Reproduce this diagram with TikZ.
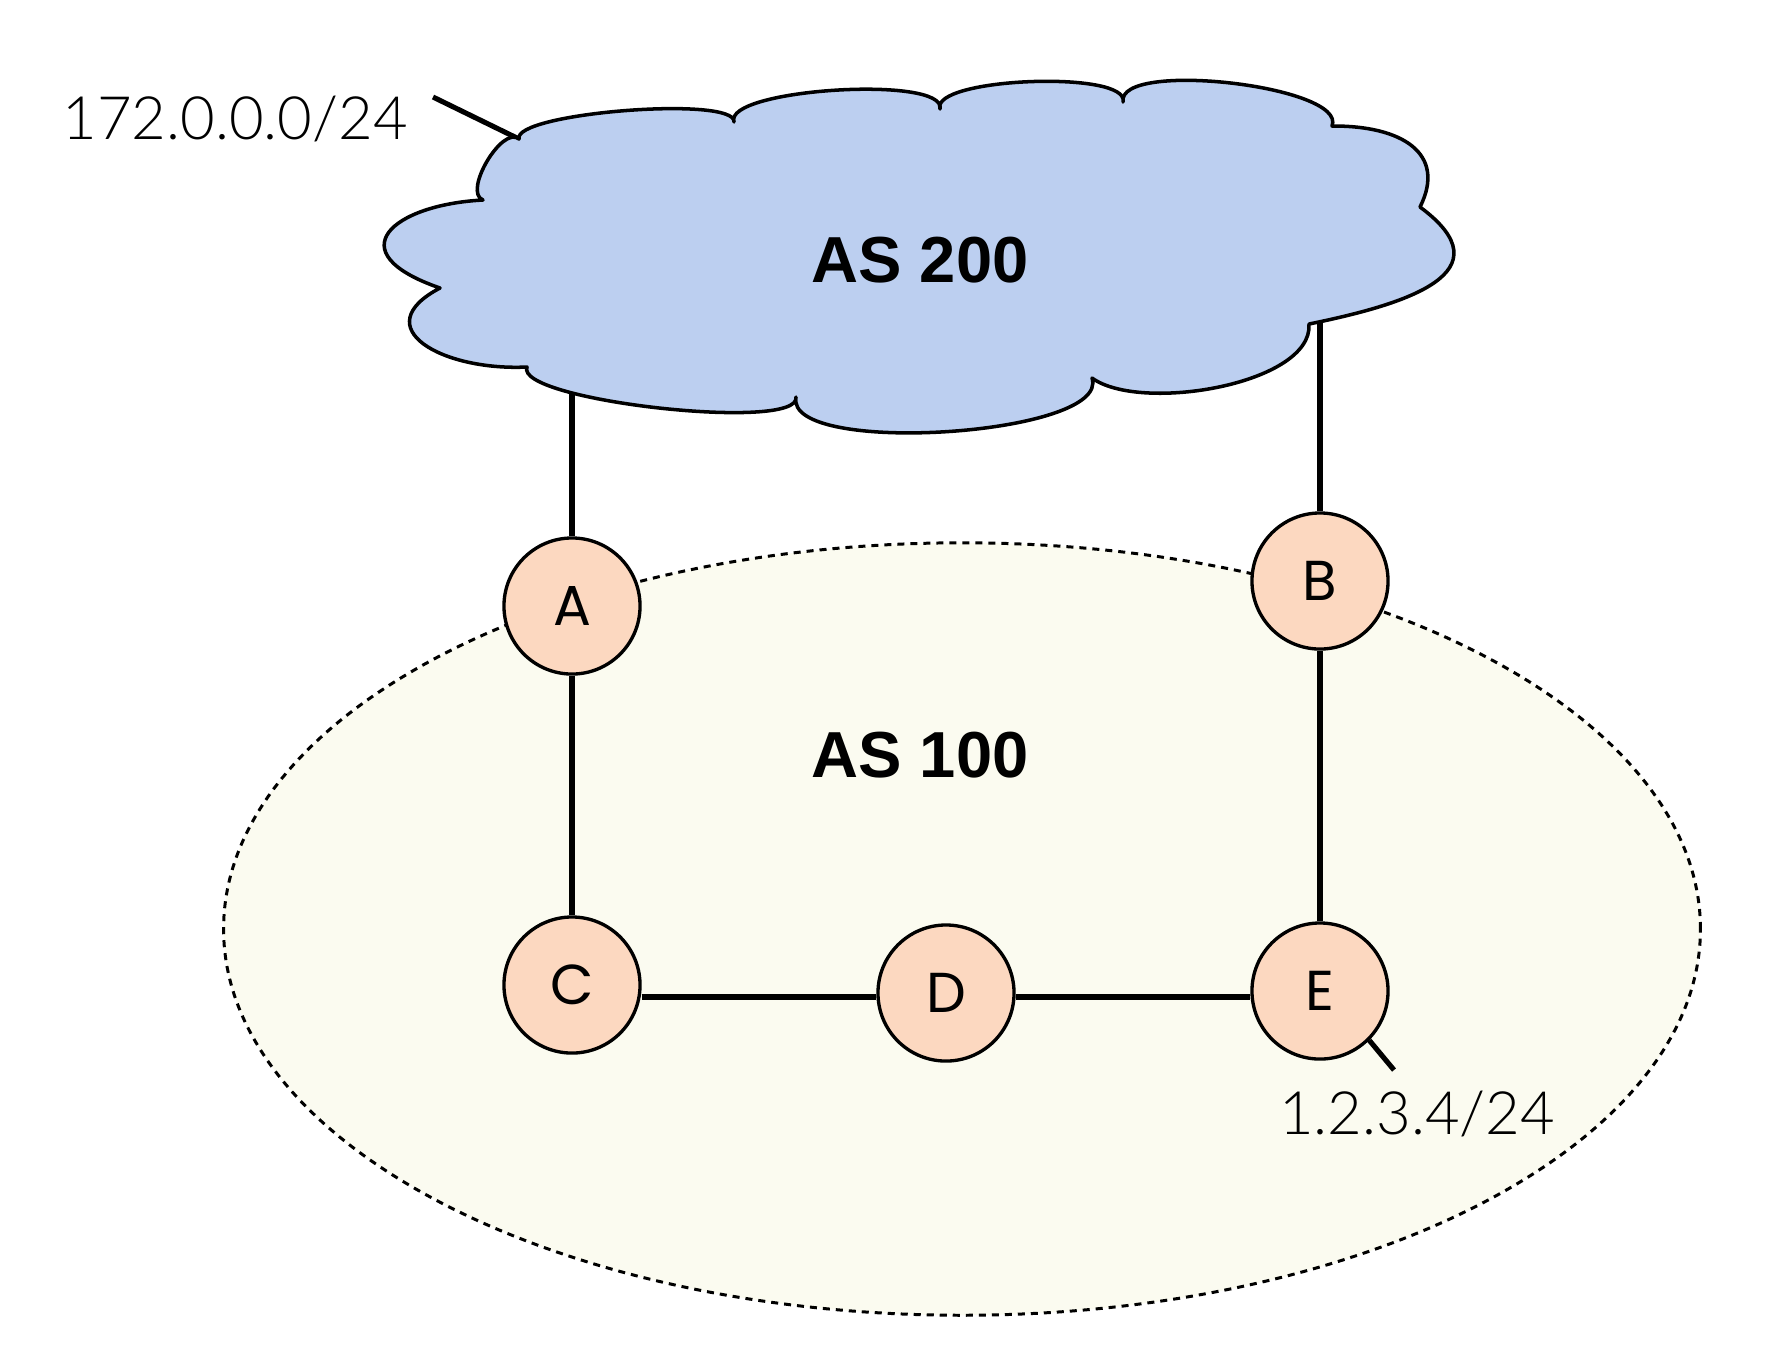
\documentclass[tikz,border=0pt]{standalone}
\usepackage{fontspec}
\setmainfont{Liberation Sans}
\newfontfamily\nodefont{Poppins}
\IfFontExistsTF{Lato Light}{\newfontfamily\lightfont{Lato Light}}{\newfontfamily\lightfont{Lato}}
\usetikzlibrary{calc}
\definecolor{cloudblue}{RGB}{188,207,240}
\definecolor{peach}{RGB}{252,216,192}
\definecolor{paleyellow}{RGB}{251,251,240}
\begin{document}
\begin{tikzpicture}[x=0.01cm,y=-0.01cm,
  cloudstyle/.style={draw=black,fill=cloudblue,line width=1pt,line join=round},
  router/.style={circle,draw=black,fill=peach,line width=0.95pt,minimum size=1.36cm,inner sep=0pt,font=\nodefont\fontsize{16}{18}\selectfont},
  link/.style={draw=black,line width=1.45pt},
  astext/.style={font=\bfseries\fontsize{18.5}{20}\selectfont},
  iptext/.style={font=\lightfont\fontsize{17}{19}\selectfont,inner sep=0pt},
  domain100/.style={draw=black,fill=paleyellow,line width=0.85pt,dash pattern=on 2pt off 1.7pt}]
\useasboundingbox[fill=white] (0,0) rectangle (1770,1356);

% AS 100 region
\path[domain100] (962,929) ellipse [x radius=7.38cm, y radius=3.86cm];

% cloud outline points
\coordinate (p1) at (519,139);
\coordinate (p2) at (734,122);
\coordinate (p3) at (940,109);
\coordinate (p4) at (1123,102);
\coordinate (p5) at (1332,126);
\coordinate (p6) at (1420,207);
\coordinate (p7) at (1309,324);
\coordinate (p8) at (1092,378);
\coordinate (p9) at (796,397);
\coordinate (p10) at (527,367);
\coordinate (p11) at (440,288);
\coordinate (p12) at (483,200);

% routers
\node[router] (A) at (572,606) {A};
\node[router] (B) at (1320,581) {B};
\node[router] (C) at (572,985) {C};
\node[router] (D) at (946,993) {D};
\node[router] (E) at (1320,991) {E};

% helper coordinates
\coordinate (cA) at (572,370);
\coordinate (cB) at (1320,300);
\coordinate (l1) at (433,97);
\coordinate (eL) at (1394,1070);
\coordinate (hl) at (0,997);

\draw[link] (cA) -- (A);
\draw[link] (cB) -- (B);
\draw[link] (A) -- (C);
\draw[link] (C.east |- hl) -- (D.west |- hl);
\draw[link] (D.east |- hl) -- (E.west |- hl);
\draw[link] (E) -- (B);
\draw[link] (l1) -- (p1);
\draw[link] (E.-45) -- (eL);

% cloud
\path[cloudstyle] (p1)
 .. controls ($(p1)!0.27cm!100:(p2)$) and ($(p2)!0.27cm!-100:(p1)$) .. (p2)
 .. controls ($(p2)!0.35cm!105:(p3)$) and ($(p3)!0.35cm!-105:(p2)$) .. (p3)
 .. controls ($(p3)!0.33cm!105:(p4)$) and ($(p4)!0.33cm!-105:(p3)$) .. (p4)
 .. controls ($(p4)!0.43cm!105:(p5)$) and ($(p5)!0.43cm!-105:(p4)$) .. (p5)
 .. controls ($(p5)!0.7cm!43:(p6)$) and ($(p6)!0.6cm!-74:(p5)$) .. (p6)
 .. controls ($(p6)!1.1cm!97:(p7)$) and ($(p7)!1.0cm!-35:(p6)$) .. (p7)
 .. controls ($(p7)!0.6cm!80:(p8)$) and ($(p8)!0.6cm!-50:(p7)$) .. (p8)
 .. controls ($(p8)!0.61cm!105:(p9)$) and ($(p9)!0.61cm!-105:(p8)$) .. (p9)
 .. controls ($(p9)!0.36cm!105:(p10)$) and ($(p10)!0.36cm!-105:(p9)$) .. (p10)
 .. controls ($(p10)!0.85cm!45:(p11)$) and ($(p11)!0.85cm!-110:(p10)$) .. (p11)
 .. controls ($(p11)!1.1cm!97:(p12)$) and ($(p12)!0.9cm!-61:(p11)$) .. (p12)
 .. controls ($(p12)!0.22cm!100:(p1)$) and ($(p1)!0.22cm!-100:(p12)$) .. (p1)
 -- cycle;

% texts
\node[astext] (as200) at (920,260) {AS 200};
\node[astext] (as100) at (920,755) {AS 100};
\node[iptext] (ip172) at (235,119) {172.0.0.0/24};
\node[iptext] (ip123) at (1417,1114) {1.2.3.4/24};
\end{tikzpicture}
\end{document}
